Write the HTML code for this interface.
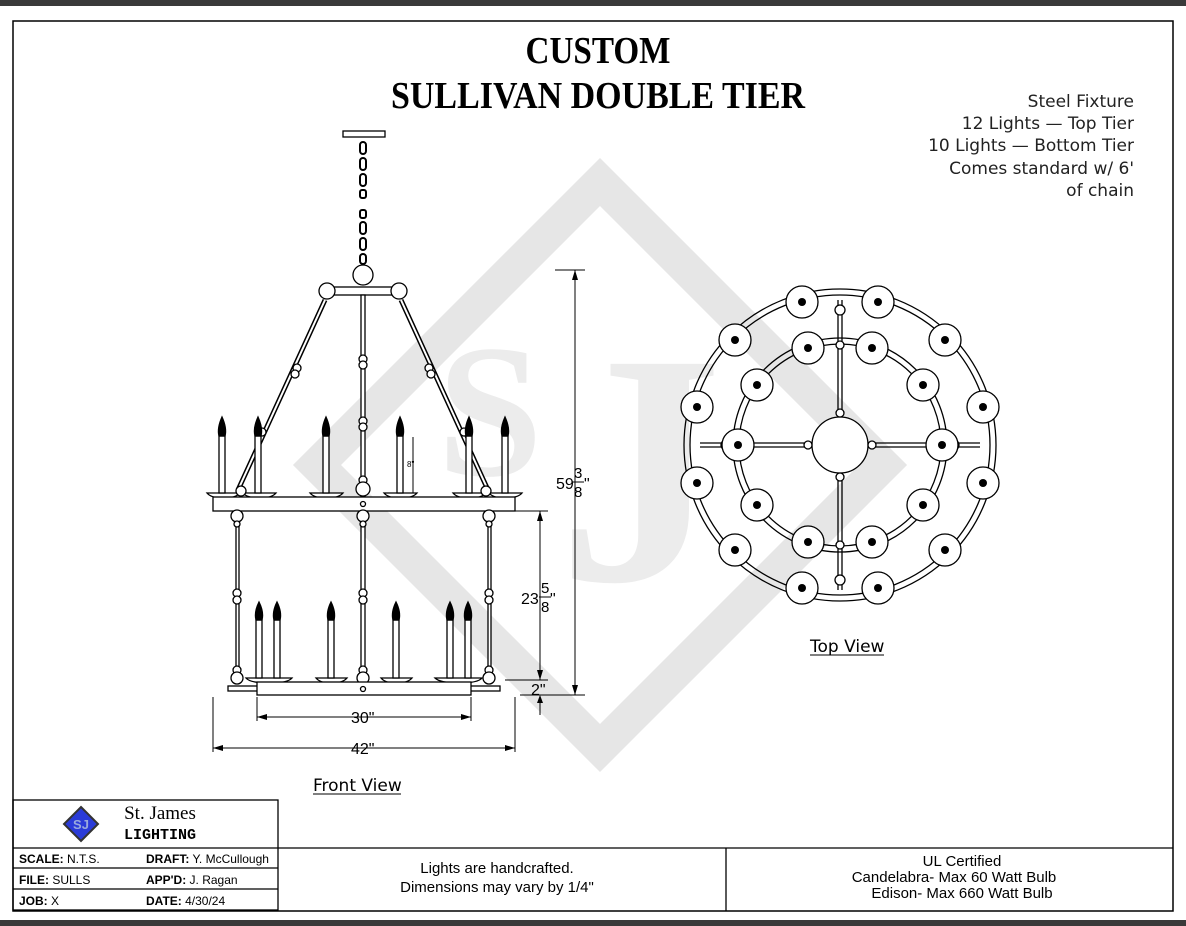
<!DOCTYPE html>
<html><head><meta charset="utf-8"><style>
html,body{margin:0;padding:0;background:#fff;}
svg{display:block;}
</style></head><body>
<svg width="1186" height="926" viewBox="0 0 1186 926" xmlns="http://www.w3.org/2000/svg" font-family="Liberation Sans, sans-serif">
<rect x="0" y="0" width="1186" height="6" fill="#3a3a3a"/>
<rect x="0" y="920" width="1186" height="6" fill="#3a3a3a"/>
<rect x="13" y="21" width="1160" height="890" fill="#fff" stroke="#000" stroke-width="1.5"/>

<!-- watermark -->
<g fill="none" stroke="#e6e6e6" stroke-width="34">
<polygon points="600,182 883,465 600,748 317,465"/>
</g>
<text x="490" y="475" text-anchor="middle" font-family="Liberation Serif, serif" font-weight="bold" font-size="190" fill="#ececec">S</text>
<text x="640" y="580" text-anchor="middle" font-family="Liberation Serif, serif" font-weight="bold" font-size="330" fill="#ececec">J</text>

<!-- title -->
<text x="598" y="63" text-anchor="middle" font-family="Liberation Serif, serif" font-weight="bold" font-size="38" textLength="145" lengthAdjust="spacingAndGlyphs">CUSTOM</text>
<text x="598" y="108" text-anchor="middle" font-family="Liberation Serif, serif" font-weight="bold" font-size="38" textLength="414" lengthAdjust="spacingAndGlyphs">SULLIVAN DOUBLE TIER</text>

<g font-family="DejaVu Sans, sans-serif" font-size="17" text-anchor="end" fill="#222">
<text x="1134" y="107">Steel Fixture</text>
<text x="1134" y="129">12 Lights — Top Tier</text>
<text x="1134" y="151">10 Lights — Bottom Tier</text>
<text x="1134" y="174">Comes standard w/ 6'</text>
<text x="1134" y="196">of chain</text>
</g>

<!-- FRONT VIEW -->
<g stroke="#000" stroke-width="1.3" fill="#fff">
<rect x="343" y="131" width="42" height="6"/>
<g fill="none" stroke-width="2">
<rect x="360" y="142" width="6" height="12" rx="3"/>
<rect x="360" y="158" width="6" height="12" rx="3"/>
<rect x="360" y="174" width="6" height="12" rx="3"/>
<rect x="360" y="190" width="6" height="8" rx="2"/>
<rect x="360" y="210" width="6" height="8" rx="2"/>
<rect x="360" y="222" width="6" height="12" rx="3"/>
<rect x="360" y="238" width="6" height="12" rx="3"/>
<rect x="360" y="254" width="6" height="10" rx="3"/>
</g>
<circle cx="363" cy="275" r="10"/>
<line x1="325" y1="300" x2="238" y2="490" stroke-width="5"/>
<line x1="325" y1="300" x2="238" y2="490" stroke="#fff" stroke-width="2"/>
<line x1="401" y1="300" x2="488" y2="490" stroke-width="5"/>
<line x1="401" y1="300" x2="488" y2="490" stroke="#fff" stroke-width="2"/>
<rect x="333" y="287" width="60" height="8"/>
<circle cx="327" cy="291" r="8"/><circle cx="399" cy="291" r="8"/>
<circle cx="297" cy="368" r="4"/><circle cx="295" cy="374" r="4"/>
<circle cx="429" cy="368" r="4"/><circle cx="431" cy="374" r="4"/>
<circle cx="262" cy="432" r="4"/><circle cx="464" cy="432" r="4"/>
<rect x="361" y="295" width="4" height="390"/>
<circle cx="363" cy="359" r="4"/><circle cx="363" cy="365" r="4"/>
<circle cx="363" cy="421" r="4"/><circle cx="363" cy="427" r="4"/>
<circle cx="363" cy="480" r="4"/><circle cx="363" cy="489" r="7"/>
<path d="M207 493 L240 493 Q236 498 223 498 Q211 498 207 493Z"/>
<path d="M243 493 L276 493 Q272 498 259 498 Q247 498 243 493Z"/>
<path d="M310 493 L343 493 Q339 498 326 498 Q314 498 310 493Z"/>
<path d="M384 493 L417 493 Q413 498 400 498 Q388 498 384 493Z"/>
<path d="M453 493 L486 493 Q482 498 469 498 Q457 498 453 493Z"/>
<path d="M489 493 L522 493 Q518 498 505 498 Q493 498 489 493Z"/>
<rect x="219" y="436" width="6" height="57"/><rect x="255" y="436" width="6" height="57"/>
<rect x="323" y="436" width="6" height="57"/><rect x="397" y="436" width="6" height="57"/>
<rect x="466" y="436" width="6" height="57"/><rect x="502" y="436" width="6" height="57"/>
<g fill="#000">
<path d="M222 417 Q227 428 225 436 L219 436 Q217 428 222 417Z"/>
<path d="M258 417 Q263 428 261 436 L255 436 Q253 428 258 417Z"/>
<path d="M326 417 Q331 428 329 436 L323 436 Q321 428 326 417Z"/>
<path d="M400 417 Q405 428 403 436 L397 436 Q395 428 400 417Z"/>
<path d="M469 417 Q474 428 472 436 L466 436 Q464 428 469 417Z"/>
<path d="M505 417 Q510 428 508 436 L502 436 Q500 428 505 417Z"/>
</g>
<circle cx="241" cy="491" r="5"/><circle cx="486" cy="491" r="5"/>
<rect x="213" y="497" width="302" height="14"/>
<circle cx="363" cy="504" r="2.5"/>
<rect x="236" y="517" width="3" height="160"/>
<rect x="488" y="517" width="3" height="160"/>
<circle cx="237" cy="516" r="6"/><circle cx="489" cy="516" r="6"/><circle cx="363" cy="516" r="6"/>
<circle cx="237" cy="524" r="3"/><circle cx="489" cy="524" r="3"/><circle cx="363" cy="524" r="3"/>
<circle cx="237" cy="593" r="4"/><circle cx="237" cy="600" r="4"/>
<circle cx="489" cy="593" r="4"/><circle cx="489" cy="600" r="4"/>
<circle cx="363" cy="593" r="4"/><circle cx="363" cy="600" r="4"/>
<circle cx="237" cy="670" r="4"/><circle cx="237" cy="678" r="6"/>
<circle cx="489" cy="670" r="4"/><circle cx="489" cy="678" r="6"/>
<circle cx="363" cy="670" r="4"/><circle cx="363" cy="678" r="6"/>
<path d="M246 678 L292 678 Q288 683 269 683 Q250 683 246 678Z"/>
<path d="M316 678 L347 678 Q343 683 331 683 Q320 683 316 678Z"/>
<path d="M381 678 L412 678 Q408 683 396 683 Q385 683 381 678Z"/>
<path d="M435 678 L482 678 Q478 683 459 683 Q440 683 435 678Z"/>
<rect x="256" y="620" width="6" height="58"/><rect x="274" y="620" width="6" height="58"/>
<rect x="328" y="620" width="6" height="58"/><rect x="393" y="620" width="6" height="58"/>
<rect x="447" y="620" width="6" height="58"/><rect x="465" y="620" width="6" height="58"/>
<g fill="#000">
<path d="M259 602 Q264 612 262 620 L256 620 Q254 612 259 602Z"/>
<path d="M277 602 Q282 612 280 620 L274 620 Q272 612 277 602Z"/>
<path d="M331 602 Q336 612 334 620 L328 620 Q326 612 331 602Z"/>
<path d="M396 602 Q401 612 399 620 L393 620 Q391 612 396 602Z"/>
<path d="M450 602 Q455 612 453 620 L447 620 Q445 612 450 602Z"/>
<path d="M468 602 Q473 612 471 620 L465 620 Q463 612 468 602Z"/>
</g>
<rect x="228" y="686" width="30" height="5"/><rect x="470" y="686" width="30" height="5"/>
<rect x="257" y="682" width="214" height="13"/>
<circle cx="363" cy="689" r="2.5"/>
</g>

<!-- dimensions -->
<g stroke="#000" stroke-width="1" fill="none">
<line x1="555" y1="270" x2="585" y2="270"/>
<line x1="575" y1="270" x2="575" y2="695"/>
<line x1="520" y1="695" x2="585" y2="695"/>
<line x1="515" y1="511" x2="548" y2="511"/>
<line x1="540" y1="511" x2="540" y2="680"/>
<line x1="505" y1="680" x2="548" y2="680"/>
<line x1="540" y1="698" x2="540" y2="715"/>
<line x1="213" y1="697" x2="213" y2="752"/>
<line x1="515" y1="697" x2="515" y2="752"/>
<line x1="257" y1="697" x2="257" y2="721"/>
<line x1="471" y1="697" x2="471" y2="721"/>
<line x1="257" y1="717" x2="471" y2="717"/>
<line x1="213" y1="748" x2="515" y2="748"/>
<line x1="413" y1="437" x2="413" y2="493"/>
</g>
<g fill="#000">
<path d="M575 270 l-3 10 h6z"/><path d="M575 695 l-3 -10 h6z"/>
<path d="M540 511 l-3 10 h6z"/><path d="M540 680 l-3 -10 h6z"/>
<path d="M540 695 l-3 8 h6z"/>
<path d="M257 717 l10 -3 v6z"/><path d="M471 717 l-10 -3 v6z"/>
<path d="M213 748 l10 -3 v6z"/><path d="M515 748 l-10 -3 v6z"/>
</g>
<g font-size="16" fill="#000">
<text x="556" y="489">59</text>
<text x="574" y="478" font-size="15">3</text><line x1="572" y1="482" x2="584" y2="482" stroke="#000"/><text x="574" y="497" font-size="15">8</text><text x="584" y="489">"</text>
<text x="521" y="604">23</text>
<text x="541" y="593" font-size="15">5</text><line x1="539" y1="597" x2="551" y2="597" stroke="#000"/><text x="541" y="612" font-size="15">8</text><text x="550" y="604">"</text>
<text x="531" y="695">2"</text>
<text x="351" y="723">30"</text>
<text x="351" y="754">42"</text>
<text x="407" y="467" font-size="8">8"</text>
</g>
<g font-family="DejaVu Sans, sans-serif" font-size="17">
<text x="313" y="791">Front View</text>
<line x1="313" y1="794" x2="401" y2="794" stroke="#000"/>
<text x="810" y="652">Top View</text>
<line x1="810" y1="655" x2="884" y2="655" stroke="#000"/>
</g>

<!-- TOP VIEW -->
<g stroke="#000" stroke-width="1.3" fill="none">
<circle cx="840" cy="445" r="150"/><circle cx="840" cy="445" r="156"/>
<circle cx="840" cy="445" r="101"/><circle cx="840" cy="445" r="107"/>
<line x1="838" y1="300" x2="838" y2="590"/><line x1="842" y1="300" x2="842" y2="590"/>
<line x1="700" y1="443" x2="980" y2="443"/><line x1="700" y1="447" x2="980" y2="447"/>
</g>
<g stroke="#000" stroke-width="1.3" fill="#fff">
<circle cx="840" cy="445" r="28"/>
<circle cx="840" cy="413" r="4"/><circle cx="840" cy="477" r="4"/>
<circle cx="808" cy="445" r="4"/><circle cx="872" cy="445" r="4"/>
<circle cx="840" cy="345" r="4"/><circle cx="840" cy="545" r="4"/>
<circle cx="840" cy="310" r="5"/><circle cx="840" cy="580" r="5"/>
<circle cx="726" cy="445" r="5"/><circle cx="954" cy="445" r="5"/>
</g>
<g stroke="#000" stroke-width="1.3" fill="#fff">
<circle cx="983" cy="483" r="16"/><circle cx="945" cy="550" r="16"/><circle cx="878" cy="588" r="16"/>
<circle cx="802" cy="588" r="16"/><circle cx="735" cy="550" r="16"/><circle cx="697" cy="483" r="16"/>
<circle cx="697" cy="407" r="16"/><circle cx="735" cy="340" r="16"/><circle cx="802" cy="302" r="16"/>
<circle cx="878" cy="302" r="16"/><circle cx="945" cy="340" r="16"/><circle cx="983" cy="407" r="16"/>
<circle cx="942" cy="445" r="16"/><circle cx="923" cy="505" r="16"/><circle cx="872" cy="542" r="16"/>
<circle cx="808" cy="542" r="16"/><circle cx="757" cy="505" r="16"/><circle cx="738" cy="445" r="16"/>
<circle cx="757" cy="385" r="16"/><circle cx="808" cy="348" r="16"/><circle cx="872" cy="348" r="16"/>
<circle cx="923" cy="385" r="16"/>
</g>
<g fill="#000">
<circle cx="983" cy="483" r="4"/><circle cx="945" cy="550" r="4"/><circle cx="878" cy="588" r="4"/>
<circle cx="802" cy="588" r="4"/><circle cx="735" cy="550" r="4"/><circle cx="697" cy="483" r="4"/>
<circle cx="697" cy="407" r="4"/><circle cx="735" cy="340" r="4"/><circle cx="802" cy="302" r="4"/>
<circle cx="878" cy="302" r="4"/><circle cx="945" cy="340" r="4"/><circle cx="983" cy="407" r="4"/>
<circle cx="942" cy="445" r="4"/><circle cx="923" cy="505" r="4"/><circle cx="872" cy="542" r="4"/>
<circle cx="808" cy="542" r="4"/><circle cx="757" cy="505" r="4"/><circle cx="738" cy="445" r="4"/>
<circle cx="757" cy="385" r="4"/><circle cx="808" cy="348" r="4"/><circle cx="872" cy="348" r="4"/>
<circle cx="923" cy="385" r="4"/>
</g>

<!-- title block -->
<g stroke="#000" stroke-width="1.3" fill="none">
<rect x="13" y="800" width="265" height="110"/>
<line x1="13" y1="848" x2="1173" y2="848"/>
<line x1="13" y1="868" x2="278" y2="868"/>
<line x1="13" y1="889" x2="278" y2="889"/>
<line x1="726" y1="848" x2="726" y2="911"/>
</g>
<polygon points="81,807 98,824 81,841 64,824" fill="#2a3bd8" stroke="#333" stroke-width="2"/>
<text x="81" y="829" text-anchor="middle" font-size="13" font-weight="bold" fill="#9ad">SJ</text>
<text x="160" y="819" text-anchor="middle" font-family="Liberation Serif, serif" font-size="19">St. James</text>
<text x="160" y="839" text-anchor="middle" font-family="Liberation Mono, monospace" font-weight="bold" font-size="15">LIGHTING</text>
<g font-size="12">
<text x="19" y="863"><tspan font-weight="bold">SCALE:</tspan> N.T.S.</text>
<text x="146" y="863"><tspan font-weight="bold">DRAFT:</tspan> Y. McCullough</text>
<text x="19" y="884"><tspan font-weight="bold">FILE:</tspan>  SULLS</text>
<text x="146" y="884"><tspan font-weight="bold">APP'D:</tspan> J. Ragan</text>
<text x="19" y="905"><tspan font-weight="bold">JOB:</tspan>    X</text>
<text x="146" y="905"><tspan font-weight="bold">DATE:</tspan>   4/30/24</text>
</g>
<g font-size="15" text-anchor="middle">
<text x="497" y="873">Lights are handcrafted.</text>
<text x="497" y="892">Dimensions may vary by 1/4"</text>
<text x="962" y="866">UL Certified</text>
<text x="954" y="882">Candelabra- Max 60 Watt Bulb</text>
<text x="962" y="898">Edison- Max 660 Watt Bulb</text>
</g>
</svg>
</body></html>
